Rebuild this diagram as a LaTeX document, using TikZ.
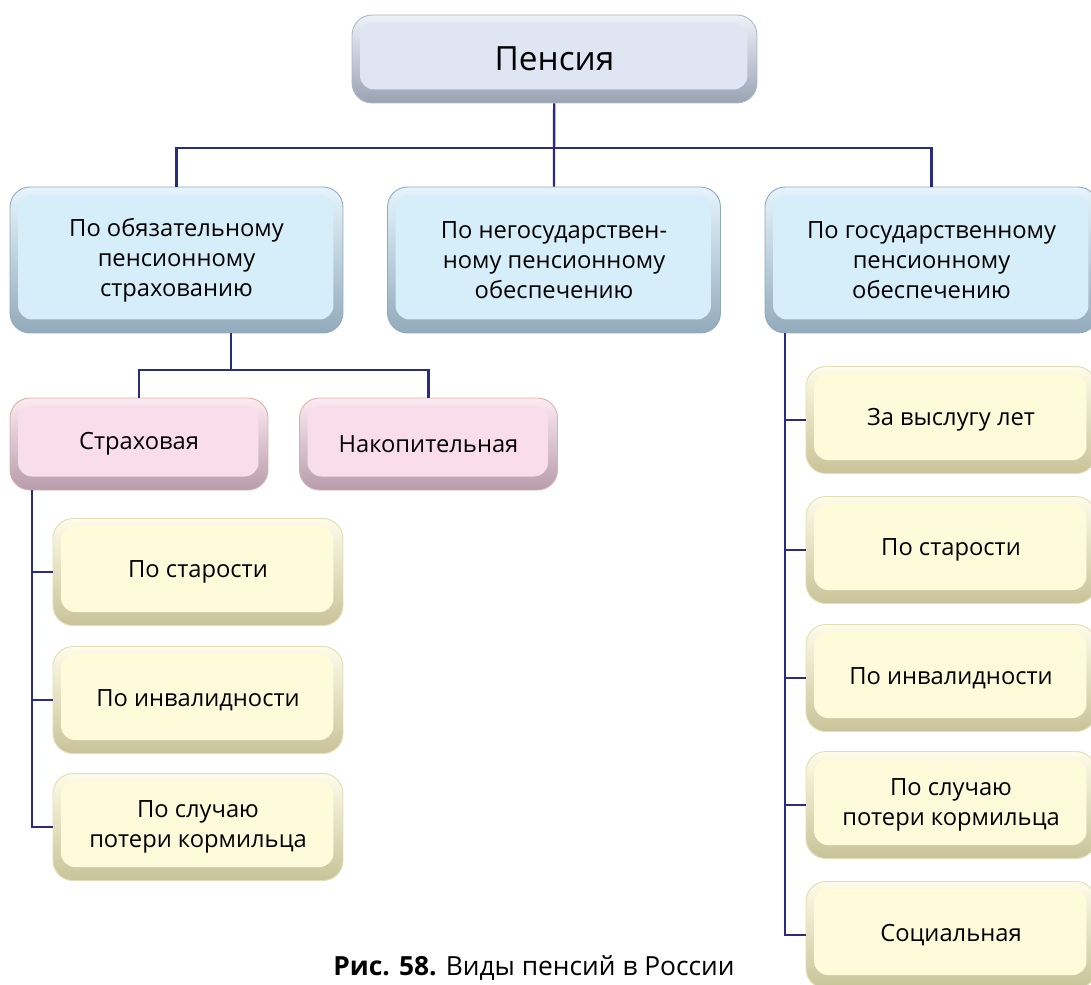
\documentclass[tikz,border=0pt]{standalone}
\usepackage{fontspec}
\setmainfont{Open Sans}
\definecolor{navyline}{HTML}{2B2B82}
\definecolor{grface}{HTML}{DFE5F2}
\definecolor{grrim}{HTML}{EEF2F9}
\definecolor{grdark}{HTML}{9AA3B4}
\definecolor{gredge}{HTML}{AEB6C6}
\definecolor{blface}{HTML}{D5EEF9}
\definecolor{blrim}{HTML}{E6F5FC}
\definecolor{bldark}{HTML}{93AABB}
\definecolor{bledge}{HTML}{8FA9BD}
\definecolor{pkface}{HTML}{FADDEB}
\definecolor{pkrim}{HTML}{FCEAF2}
\definecolor{pkdark}{HTML}{B89CAB}
\definecolor{pkedge}{HTML}{D8B2A8}
\definecolor{ylface}{HTML}{FFFBDA}
\definecolor{ylrim}{HTML}{FEFCE9}
\definecolor{yldark}{HTML}{C8C398}
\definecolor{yledge}{HTML}{E2DDB2}
\begin{document}
\begin{tikzpicture}[x=0.02cm,y=-0.02cm,font=\fontsize{13.5}{17}\selectfont,
  box/.style={rounded corners=0.4cm,draw=#1edge,line width=0.5pt,
    top color=#1rim,bottom color=#1dark,align=center,inner sep=0pt,
    path picture={\fill[#1face,rounded corners=0.28cm]
      ([xshift=0.16cm,yshift=-0.15cm]path picture bounding box.north west) rectangle
      ([xshift=-0.19cm,yshift=0.27cm]path picture bounding box.south east);}},
  topbox/.style={box=gr,minimum width=8.1cm,minimum height=1.76cm},
  kindbox/.style={box=bl,minimum width=6.66cm,minimum height=2.92cm},
  partbox/.style={box=pk,minimum width=5.16cm,minimum height=1.84cm},
  typebox/.style={box=yl,minimum width=5.8cm,minimum height=2.14cm},
  conn/.style={draw=navyline,line width=1.4pt}]
\useasboundingbox (0,0) rectangle (1091,984);
\node[topbox,font=\fontsize{19}{23}\selectfont] (pension) at (554.5,59) {Пенсия};
\node[kindbox] (oblig) at (176.5,260) {По обязательному\\пенсионному\\страхованию};
\node[kindbox] (negos) at (554,260) {По негосударствен-\\ному пенсионному\\обеспечению};
\node[kindbox] (gos) at (931.5,260) {По государственному\\пенсионному\\обеспечению};
\node[partbox] (strah) at (139,444) {Страховая};
\node[partbox] (nakop) at (428.5,444) {Накопительная};
\node[typebox] (lstar) at (198,572) {По старости};
\node[typebox] (linv) at (198,700) {По инвалидности};
\node[typebox] (lkorm) at (198,827) {По случаю\\потери кормильца};
\node[typebox] (rvysl) at (951,420) {За выслугу лет};
\node[typebox] (rstar) at (951,550) {По старости};
\node[typebox] (rinv) at (951,678) {По инвалидности};
\node[typebox] (rkorm) at (951,805) {По случаю\\потери кормильца};
\node[typebox] (rsoc) at (951,935) {Социальная};
\node[anchor=base,font=\fontsize{15}{18}\selectfont] (caption) at (534,975) {\textbf{Рис. 58.} Виды пенсий в России};
% connectors
\coordinate (top) at (554,148);
\coordinate (mid) at (231,370);
\coordinate (ltrunk) at (32,490);
\coordinate (rtrunk) at (785,333);
\draw[conn] (pension) -- (top) -- (negos);
\draw[conn] (oblig.north) |- (top) -| (gos.north);
\draw[conn] (oblig.south -| mid) -- (mid);
\draw[conn] (strah.north) |- (mid) -| (nakop.north);
\draw[conn] (ltrunk) |- (lkorm.west);
\draw[conn] (ltrunk |- lstar.west) -- (lstar.west);
\draw[conn] (ltrunk |- linv.west) -- (linv.west);
\draw[conn] (rtrunk) |- (rsoc.west);
\foreach \n in {rvysl,rstar,rinv,rkorm}
  \draw[conn] (rtrunk |- \n.west) -- (\n.west);
\end{tikzpicture}
\end{document}
